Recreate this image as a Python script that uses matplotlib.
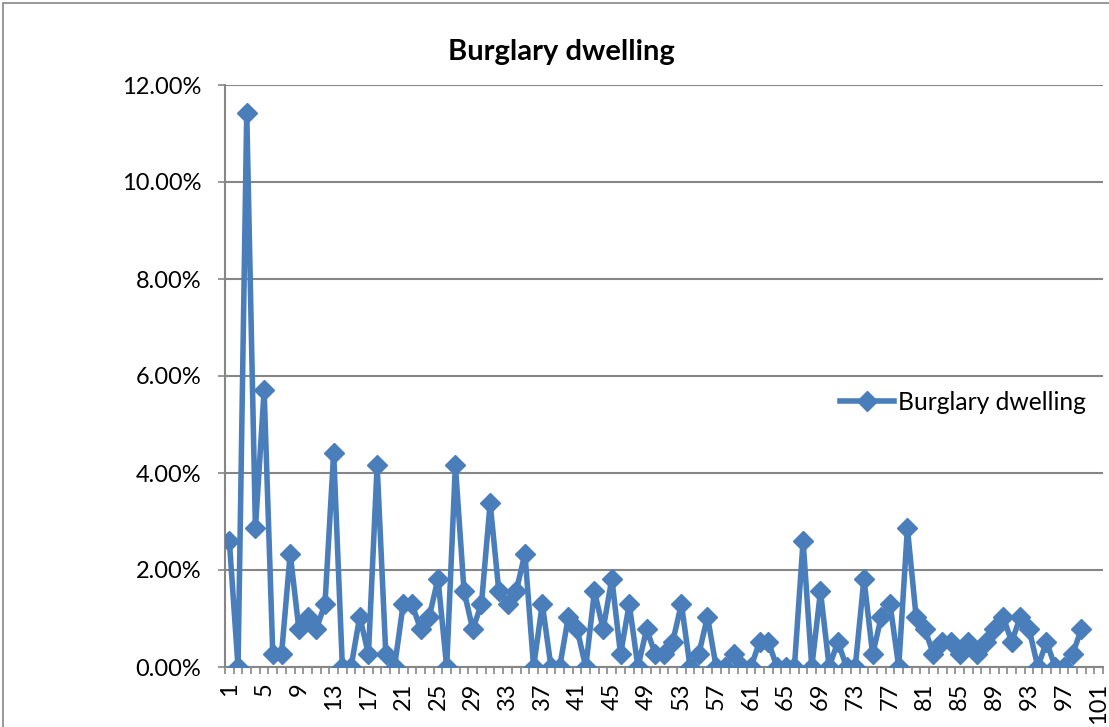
import numpy as np
import matplotlib
matplotlib.use("Agg")
import matplotlib.pyplot as plt
from matplotlib.ticker import FixedLocator, FuncFormatter
from matplotlib.patches import Rectangle

plt.rcParams['font.family'] = ['Lato', 'DejaVu Sans']

title = "Burglary dwelling"
series_name = "Burglary dwelling"
categories = list(range(1, 102))
values_pct = [
    2.60, 0.00, 11.43, 2.86, 5.71, 0.26, 0.26, 2.34, 0.78, 1.04,
    0.78, 1.30, 4.42, 0.00, 0.00, 1.04, 0.26, 4.16, 0.26, 0.00,
    1.30, 1.30, 0.78, 1.04, 1.82, 0.00, 4.16, 1.56, 0.78, 1.30,
    3.38, 1.56, 1.30, 1.56, 2.34, 0.00, 1.30, 0.00, 0.00, 1.04,
    0.78, 0.00, 1.56, 0.78, 1.82, 0.26, 1.30, 0.00, 0.78, 0.26,
    0.26, 0.52, 1.30, 0.00, 0.26, 1.04, 0.00, 0.00, 0.26, 0.00,
    0.00, 0.52, 0.52, 0.00, 0.00, 0.00, 2.60, 0.00, 1.56, 0.00,
    0.52, 0.00, 0.00, 1.82, 0.26, 1.04, 1.30, 0.00, 2.86, 1.04,
    0.78, 0.26, 0.52, 0.52, 0.26, 0.52, 0.26, 0.52, 0.78, 1.04,
    0.52, 1.04, 0.78, 0.00, 0.52, 0.00, 0.00, 0.26, 0.78,
]
y_ticks = [0, 2, 4, 6, 8, 10, 12]
x_tick_labels = list(range(1, 102, 4))

W, H = 1109, 727
fig = plt.figure(figsize=(W / 100, H / 100), dpi=100)
ax = fig.add_axes([225 / W, 1 - 667 / H, 878 / W, 582 / H])

x = np.array(categories[:len(values_pct)], dtype=float)
y = np.array(values_pct)
color = '#4A7EBB'
ax.plot(x, y, color=color, lw=4.0, marker='D', ms=10.5, mfc=color, mec=color,
        label=series_name, zorder=3)

ax.set_xlim(0.5, 101.5)
ax.set_ylim(0, 12)
ax.set_yticks(y_ticks)
ax.yaxis.set_major_formatter(FuncFormatter(lambda v, p: f"{v:.2f}%"))
ax.grid(axis='y', color='#868686', lw=1.5, zorder=1)
ax.set_axisbelow(True)

ax.xaxis.set_major_locator(FixedLocator(x_tick_labels))
ax.set_xticklabels([str(v) for v in x_tick_labels], rotation=90)
ax.xaxis.set_minor_locator(FixedLocator(np.arange(0.5, 102, 1.0)))
ax.tick_params(axis='x', which='major', length=0, pad=11, labelsize=17)
ax.tick_params(axis='x', which='minor', length=5, width=1.2, color='#868686', direction='out')
ax.tick_params(axis='y', which='major', length=5, width=1.2, color='#868686',
               direction='out', pad=12, labelsize=17)

for s in ['top', 'right']:
    ax.spines[s].set_visible(False)
for s in ['left', 'bottom']:
    ax.spines[s].set_color('#868686')
    ax.spines[s].set_linewidth(1.5)

leg = ax.legend(loc='center left', bbox_to_anchor=((840 - 225) / 878, (667 - 402) / 582),
                frameon=False, fontsize=17.7, handlelength=2.2, handletextpad=0.15,
                borderaxespad=0, borderpad=0)

fig.text(561 / W, 1 - 52 / H, title, ha='center', va='center', fontsize=21,
         fontweight='bold')

fig.patches.append(Rectangle((3 / W, -0.05), 1.1, 1 - 3 / H + 0.05,
                             transform=fig.transFigure, fill=False,
                             edgecolor='#868686', lw=1.2))

fig.savefig('out.png', dpi=100)
